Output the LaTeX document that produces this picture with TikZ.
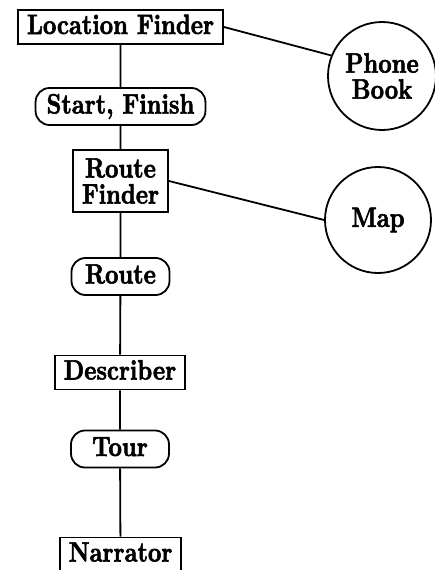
\documentclass[tikz,border=0pt]{standalone}
\usepackage{fontspec}
\setmainfont{lmroman10-regular}[Extension=.otf,BoldFont=lmroman10-bold,
    FakeStretch=0.83,BoldFeatures={FakeBold=2}]
\usepackage{tikz}

\begin{document}
\begin{tikzpicture}[x=1pt,y=1pt,yscale=-1,xscale=1,
    every node/.style={font=\fontsize{28}{26}\selectfont\bfseries},
    module/.style={draw,line width=1.8pt,rectangle,inner xsep=9pt,inner ysep=7pt,align=center},
    oneline/.style={text height=19pt,text depth=5pt,inner ysep=5pt},
    datum/.style={draw,line width=1.8pt,rectangle,rounded corners=14pt,inner xsep=11pt,
        minimum width=98pt,minimum height=37pt,text height=19pt,text depth=5pt},
    store/.style={draw,line width=1.8pt,circle,align=center,inner sep=0pt},
    link/.style={line width=1.8pt}]
        \useasboundingbox (0,0) rectangle (435,570);

        \node [module,oneline] (locfinder) at (120.5,27) {Location Finder};
        \node [datum] (startfinish) at (120.5,106.5) {Start, Finish};
        \node [module,minimum height=62pt] (routefinder) at (120.5,181) {Route\\Finder};
        \node [datum] (route) at (120.5,276.5) {Route};
        \node [module,oneline] (describer) at (120,372.5) {Describer};
        \node [datum] (tour) at (120,449) {Tour};
        \node [module,oneline] (narrator) at (120.5,554.5) {Narrator};

        \node [store,minimum size=108pt] (phonebook) at (382,76) {Phone\\Book};
        \node [store,minimum size=106pt] (map) at (378,220) {Map};

        \draw [link] (locfinder) -- (startfinish) -- (routefinder) -- (route)
            -- (describer) -- (tour) -- (narrator);
        \draw [link] (locfinder.east) -- (phonebook.158);
        \draw [link] (routefinder.east) -- (map.west);
\end{tikzpicture}
\end{document}
